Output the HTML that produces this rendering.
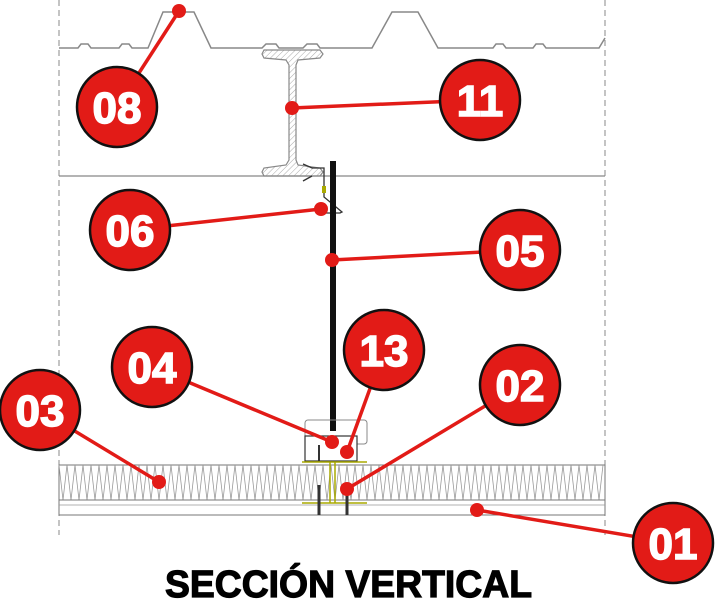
<!DOCTYPE html>
<html><head><meta charset="utf-8"><style>
html,body{margin:0;padding:0;background:#fff;}
svg{display:block;}
.c{fill:#e21b17;stroke:#111;stroke-width:2.5;}
.n{fill:#fff;stroke:#fff;stroke-width:1.5;font-family:"Liberation Sans",sans-serif;font-weight:bold;font-size:44px;text-anchor:middle;}
.l{stroke:#e21b17;stroke-width:3.5;}
.d{fill:#e21b17;}
</style></head><body>
<svg width="715" height="599" viewBox="0 0 715 599" xmlns="http://www.w3.org/2000/svg">
<defs>
<pattern id="h" width="4" height="4" patternUnits="userSpaceOnUse" patternTransform="rotate(45)"><line x1="0" y1="0" x2="0" y2="4" stroke="#aaa" stroke-width="1"/></pattern>
</defs>
<line x1="59" y1="0" x2="59" y2="535" stroke="#888" stroke-dasharray="6,4"/>
<line x1="605" y1="0" x2="605" y2="535" stroke="#888" stroke-dasharray="6,4"/>
<polyline fill="none" stroke="#888" stroke-width="1.5" points="59,48 78,48 81,44 88,44 91,48 119,48 122,44 129,44 132,48 148,48 163,12 194,12 211,48 262,48 266,44 276,44 279,48 303,48 307,44 317,44 320,48 372,48 392,12 418,12 438,48 493,48 496,44 503,44 506,48 533,48 536,44 543,44 546,48 599,48 605,38"/>
<line x1="59" y1="176" x2="605" y2="176" stroke="#888" stroke-width="1.2"/>
<path d="M264,50 L320,50 L323,54 L320,58 L298,60 L296,65 L296,160 L298,165 L320,168 L323,172 L320,176 L264,176 L262,172 L264,168 L286,165 L289,160 L289,65 L286,60 L264,58 L262,54 Z" fill="url(#h)" stroke="#888" stroke-width="1.2"/>
<polyline fill="none" stroke="#333" stroke-width="1.3" points="303,164 312,168 324,168 324,197 342,212 340,213 324,213"/>
<line x1="303" y1="181" x2="312" y2="176" stroke="#333" stroke-width="1.3"/>
<rect x="322" y="186" width="4" height="7" fill="#aa0"/>
<rect x="330" y="161" width="6" height="270" fill="#111"/>
<rect x="305" y="420" width="62" height="24" rx="3" fill="none" stroke="#888"/>
<rect x="305" y="436" width="52" height="25" fill="#fff" stroke="#333" stroke-width="1.2"/>
<line x1="319" y1="445" x2="319" y2="462" stroke="#333" stroke-width="2"/>
<rect x="59" y="465" width="546" height="35" fill="#fff" stroke="#777"/>
<path d="M59,465 L63,500 L67,465 L71,500 L75,465 L79,500 L83,465 L87,500 L91,465 L95,500 L99,465 L103,500 L107,465 L111,500 L115,465 L119,500 L123,465 L127,500 L131,465 L135,500 L139,465 L143,500 L147,465 L151,500 L155,465 L159,500 L163,465 L167,500 L171,465 L175,500 L179,465 L183,500 L187,465 L191,500 L195,465 L199,500 L203,465 L207,500 L211,465 L215,500 L219,465 L223,500 L227,465 L231,500 L235,465 L239,500 L243,465 L247,500 L251,465 L255,500 L259,465 L263,500 L267,465 L271,500 L275,465 L279,500 L283,465 L287,500 L291,465 L295,500 L299,465 L303,500 L307,465 L311,500 L315,465 L319,500 L323,465 L327,500 L331,465 L335,500 L339,465 L343,500 L347,465 L351,500 L355,465 L359,500 L363,465 L367,500 L371,465 L375,500 L379,465 L383,500 L387,465 L391,500 L395,465 L399,500 L403,465 L407,500 L411,465 L415,500 L419,465 L423,500 L427,465 L431,500 L435,465 L439,500 L443,465 L447,500 L451,465 L455,500 L459,465 L463,500 L467,465 L471,500 L475,465 L479,500 L483,465 L487,500 L491,465 L495,500 L499,465 L503,500 L507,465 L511,500 L515,465 L519,500 L523,465 L527,500 L531,465 L535,500 L539,465 L543,500 L547,465 L551,500 L555,465 L559,500 L563,465 L567,500 L571,465 L575,500 L579,465 L583,500 L587,465 L591,500 L595,465 L599,500 L603,465" fill="none" stroke="#999" stroke-width="0.8"/>
<rect x="59" y="500" width="546" height="15" fill="#fff" stroke="#777"/>
<line x1="59" y1="505" x2="605" y2="505" stroke="#999" stroke-width="0.8"/>
<path d="M302,462 L367,462 M302,503 L367,503 M330,462 L330,503 M335,462 L335,503" stroke="#aa0" stroke-width="1.5" fill="none"/>
<line x1="319" y1="485" x2="319" y2="515" stroke="#333" stroke-width="3"/>
<line x1="347" y1="485" x2="347" y2="515" stroke="#333" stroke-width="3"/>
<line class="l" x1="179" y1="11" x2="117" y2="107"/>
<line class="l" x1="292" y1="108" x2="480" y2="100"/>
<line class="l" x1="321" y1="209" x2="130" y2="230"/>
<line class="l" x1="332" y1="260" x2="520" y2="250"/>
<line class="l" x1="332" y1="442" x2="152" y2="367"/>
<line class="l" x1="347" y1="452" x2="384" y2="350"/>
<line class="l" x1="347" y1="489" x2="520" y2="385"/>
<line class="l" x1="159" y1="482" x2="40" y2="410"/>
<line class="l" x1="477" y1="510" x2="673" y2="543"/>
<circle class="d" cx="179" cy="11" r="7"/>
<circle class="d" cx="292" cy="108" r="7"/>
<circle class="d" cx="321" cy="209" r="7"/>
<circle class="d" cx="332" cy="260" r="7"/>
<circle class="d" cx="332" cy="442" r="7"/>
<circle class="d" cx="347" cy="452" r="7"/>
<circle class="d" cx="347" cy="489" r="7"/>
<circle class="d" cx="159" cy="482" r="7"/>
<circle class="d" cx="477" cy="510" r="7"/>
<g>
<circle class="c" cx="117" cy="107" r="40"/><text class="n" x="117" y="123">08</text>
<circle class="c" cx="480" cy="100" r="40"/><text class="n" x="480" y="116">11</text>
<circle class="c" cx="130" cy="230" r="40"/><text class="n" x="130" y="246">06</text>
<circle class="c" cx="520" cy="250" r="40"/><text class="n" x="520" y="266">05</text>
<circle class="c" cx="152" cy="367" r="40"/><text class="n" x="152" y="383">04</text>
<circle class="c" cx="384" cy="350" r="40"/><text class="n" x="384" y="366">13</text>
<circle class="c" cx="520" cy="385" r="40"/><text class="n" x="520" y="401">02</text>
<circle class="c" cx="40" cy="410" r="40"/><text class="n" x="40" y="426">03</text>
<circle class="c" cx="673" cy="543" r="40"/><text class="n" x="673" y="559">01</text>
</g>
<text x="165" y="597" font-family="Liberation Sans, sans-serif" font-weight="bold" font-size="38" stroke="#000" stroke-width="1.2" textLength="367" lengthAdjust="spacingAndGlyphs" fill="#000">SECCIÓN VERTICAL</text>
</svg>
</body></html>
